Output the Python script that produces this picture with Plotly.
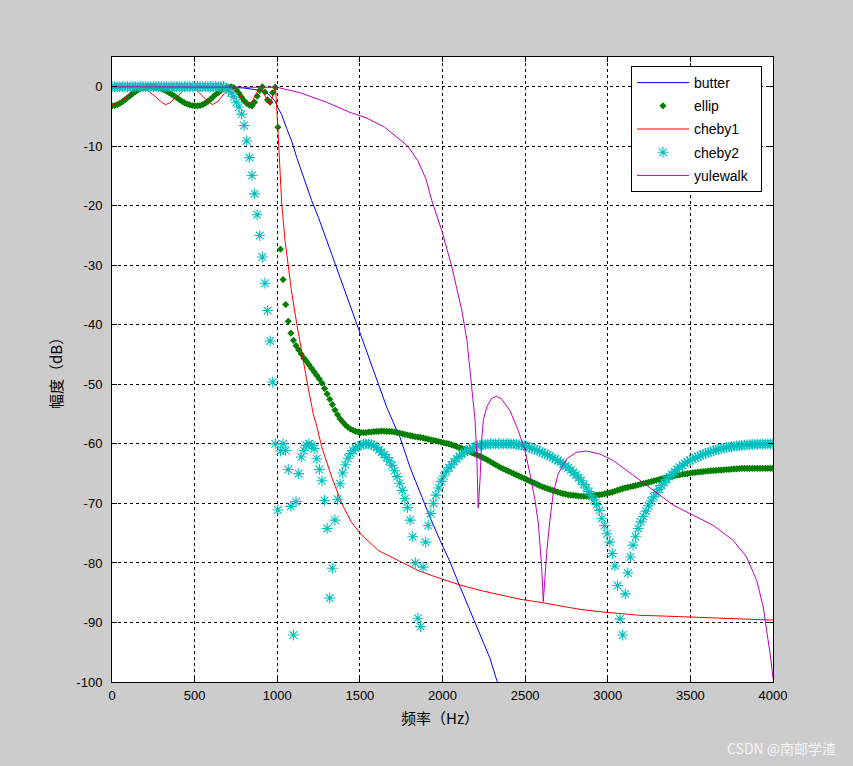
import plotly.graph_objects as go

# ---------------- data ----------------
STEP_HZ = 4000.0 / 255.0  # sample spacing of the marker series (256 samples, 0..4000 Hz)

ellip_db = [
    -3.2, -3.15, -3.0, -2.8, -2.5, -2.2, -1.85, -1.5, -1.15, -0.85, -0.55, -0.35, -0.2, -0.1, -0.03, 0.0,
    -0.02, -0.08, -0.18, -0.32, -0.5, -0.72, -0.98, -1.25, -1.55, -1.85, -2.15, -2.45, -2.7, -2.9, -3.05, -3.15,
    -3.2, -3.2, -3.15, -3.0, -2.75, -2.45, -2.1, -1.7, -1.3, -0.95, -0.62, -0.35, -0.15, -0.04, 0.0, -0.15,
    -0.55, -1.1, -1.75, -2.35, -2.8, -3.1, -3.2, -2.6, -1.6, -0.6, 0.0, -0.9, -2.2, -2.6, -1.0, -0.1,
    -6.8, -27.3, -32.4, -36.6, -39.4, -41.4, -42.6, -43.5, -44.2, -44.9, -45.6, -46.1, -46.7, -47.3, -47.9, -48.5,
    -49.1, -49.8, -50.7, -51.6, -52.5, -53.4, -54.3, -55.1, -55.8, -56.3, -56.8, -57.2, -57.5, -57.7, -57.9, -58.0,
    -58.1, -58.1, -58.1, -58.0, -58.0, -57.95, -57.9, -57.9, -57.85, -57.85, -57.9, -57.9, -57.95, -58.0, -58.1, -58.2,
    -58.3, -58.4, -58.5, -58.6, -58.7, -58.8, -58.85, -58.9, -59.0, -59.1, -59.2, -59.3, -59.4, -59.5, -59.6, -59.7,
    -59.8, -59.9, -60.0, -60.15, -60.3, -60.45, -60.6, -60.75, -60.9, -61.1, -61.3, -61.5, -61.7, -61.9, -62.1, -62.3,
    -62.5, -62.75, -63.0, -63.25, -63.5, -63.75, -64.0, -64.2, -64.4, -64.6, -64.8, -65.0, -65.2, -65.4, -65.6, -65.8,
    -66.0, -66.2, -66.4, -66.6, -66.8, -67.0, -67.2, -67.35, -67.5, -67.65, -67.8, -67.95, -68.1, -68.25, -68.35, -68.45,
    -68.55, -68.6, -68.65, -68.7, -68.75, -68.8, -68.8, -68.8, -68.75, -68.7, -68.65, -68.6, -68.55, -68.5, -68.4, -68.3,
    -68.2, -68.1, -67.95, -67.8, -67.65, -67.5, -67.4, -67.3, -67.2, -67.1, -67.0, -66.9, -66.75, -66.65, -66.55, -66.45,
    -66.35, -66.2, -66.1, -66.0, -65.85, -65.75, -65.65, -65.55, -65.45, -65.35, -65.25, -65.2, -65.1, -65.05, -65.0, -64.9,
    -64.85, -64.8, -64.75, -64.7, -64.65, -64.6, -64.55, -64.5, -64.5, -64.45, -64.4, -64.4, -64.35, -64.3, -64.3, -64.25,
    -64.2, -64.2, -64.15, -64.1, -64.1, -64.1, -64.1, -64.1, -64.1, -64.1, -64.1, -64.1, -64.1, -64.1, -64.1, -64.1,
]

cheby2_db = [
    0.0, 0.0, 0.0, 0.0, 0.0, 0.0, 0.0, 0.0, 0.0, 0.0, 0.0, 0.0, 0.0, 0.0, 0.0, 0.0,
    0.0, 0.0, 0.0, 0.0, 0.0, 0.0, 0.0, 0.0, 0.0, 0.0, 0.0, 0.0, 0.0, 0.0, 0.0, 0.0,
    0.0, 0.0, 0.0, 0.0, 0.0, 0.0, 0.0, 0.0, 0.0, 0.0, 0.0, 0.0, -0.2, -0.5, -1.0, -1.7,
    -2.6, -3.4, -4.6, -6.5, -9.1, -11.9, -14.9, -18.0, -21.5, -25.0, -28.6, -33.0, -37.6, -42.7, -49.6, -60.0,
    -71.1, -61.2, -60.0, -61.1, -64.3, -70.5, -92.1, -69.7, -65.0, -62.2, -61.1, -60.2, -60.0, -60.2, -60.8, -62.5,
    -64.3, -66.2, -69.5, -74.2, -85.9, -80.9, -72.8, -69.3, -66.7, -64.9, -63.5, -62.4, -61.6, -61.1, -60.7, -60.4,
    -60.2, -60.05, -60.0, -60.0, -60.1, -60.3, -60.6, -61.0, -61.4, -61.8, -62.3, -62.9, -63.6, -64.5, -65.5, -66.6,
    -67.8, -69.2, -70.7, -72.8, -75.6, -80.0, -89.3, -90.7, -80.7, -76.5, -73.7, -71.7, -70.0, -68.6, -67.4, -66.3,
    -65.4, -64.6, -64.0, -63.5, -63.0, -62.5, -62.1, -61.7, -61.4, -61.1, -60.9, -60.7, -60.5, -60.35, -60.25, -60.15,
    -60.1, -60.05, -60.0, -60.0, -60.0, -60.0, -60.0, -60.0, -60.0, -60.0, -60.0, -60.0, -60.1, -60.15, -60.2, -60.3,
    -60.45, -60.6, -60.75, -60.9, -61.05, -61.25, -61.45, -61.65, -61.85, -62.05, -62.3, -62.55, -62.8, -63.1, -63.4, -63.7,
    -64.0, -64.4, -64.8, -65.2, -65.7, -66.2, -66.8, -67.4, -68.0, -68.7, -69.4, -70.2, -71.2, -72.5, -73.7, -75.1,
    -76.5, -78.4, -80.5, -83.8, -89.4, -92.1, -85.2, -81.7, -79.0, -77.0, -75.6, -74.2, -73.1, -72.2, -71.3, -70.4,
    -69.6, -68.9, -68.2, -67.6, -67.0, -66.5, -66.0, -65.5, -65.1, -64.7, -64.3, -63.9, -63.6, -63.3, -63.0, -62.8,
    -62.55, -62.35, -62.15, -61.95, -61.75, -61.6, -61.45, -61.3, -61.15, -61.0, -60.9, -60.8, -60.7, -60.6, -60.5, -60.45,
    -60.4, -60.35, -60.3, -60.25, -60.2, -60.15, -60.12, -60.1, -60.08, -60.06, -60.05, -60.04, -60.03, -60.02, -60.01, -60.0,
]

ellip_f = [k * STEP_HZ for k in range(len(ellip_db))]
cheby2_f = [k * STEP_HZ for k in range(len(cheby2_db))]

butter_f = [0, 300, 600, 795, 896, 946, 986, 1000, 1027, 1057, 1087, 1118, 1148, 1168, 1208, 1250,
            1299, 1360, 1400, 1450, 1501, 1561, 1611, 1662, 1723, 1743, 1803, 1864, 1924, 1985, 2045,
            2106, 2166, 2227, 2287, 2328, 2360]
butter_db = [0, 0, 0, -0.2, -0.6, -1.2, -2.4, -3.3, -4.7, -7.0, -9.1, -11.9, -14.3, -16.1, -19.1, -22.0,
             -25.8, -30.3, -33.5, -37.3, -41.2, -46.0, -49.9, -53.8, -57.7, -58.9, -63.9, -68.3, -72.3, -76.2, -79.8,
             -84.0, -87.9, -91.8, -96.0, -99.7, -102.0]

cheby1_f = [0, 40, 80, 120, 164, 210, 260, 300, 324, 350, 400, 440, 473, 510, 550, 585, 608, 640, 680, 726,
            760, 795, 823, 850, 875, 900, 925, 955, 972, 989, 997, 1006, 1017, 1027, 1047, 1067, 1087, 1118,
            1148, 1164, 1178, 1218, 1239, 1269, 1330, 1390, 1450, 1511, 1611, 1733, 1854, 1985, 2106, 2227,
            2348, 2469, 2590, 2711, 2832, 2953, 3074, 3195, 3316, 3498, 3740, 4000]
cheby1_db = [-3.0, -2.7, -1.9, -0.8, 0.0, -0.5, -1.6, -2.6, -3.0, -2.7, -1.5, -0.4, 0.0, -0.5, -1.6, -2.6, -3.0,
             -2.5, -1.1, 0.0, -0.9, -2.4, -3.0, -2.4, -1.0, 0.0, -1.5, -3.0, -1.7, 0.0, -3.5, -9.1, -14.6, -19.6,
             -25.8, -30.5, -34.5, -39.8, -44.6, -47.0, -49.2, -55.0, -57.0, -60.5, -65.6, -70.0, -73.2, -75.3,
             -77.9, -79.6, -81.3, -82.6, -83.7, -84.6, -85.4, -86.1, -86.6, -87.2, -87.8, -88.2, -88.5, -88.8,
             -88.9, -89.1, -89.4, -89.6]

yule_f = [0, 500, 900, 1000, 1138, 1299, 1440, 1537, 1650, 1791, 1850, 1900, 1935, 1996, 2057, 2117, 2148,
          2168, 2188, 2197, 2207, 2216, 2227, 2237, 2247, 2268, 2296, 2326, 2356, 2378, 2408, 2458, 2499,
          2529, 2560, 2580, 2600, 2610, 2630, 2650, 2670, 2700, 2751, 2812, 2872, 2953, 3034, 3155, 3276,
          3397, 3518, 3639, 3759, 3840, 3901, 3941, 3961, 3984, 4000]
yule_db = [0, 0, 0, -0.1, -1.0, -2.6, -4.3, -5.2, -6.8, -10.0, -12.4, -15.5, -19.1, -24.2, -30.3, -37.6, -42.6,
           -48.2, -52.7, -56.0, -61.6, -70.8, -66.1, -59.4, -56.0, -53.8, -52.4, -52.0, -52.4, -53.2, -54.4,
           -57.7, -61.1, -65.0, -69.5, -73.4, -80.6, -86.5, -78.4, -72.8, -68.3, -65.0, -62.5, -61.4, -61.2,
           -61.7, -62.8, -65.3, -67.8, -70.3, -72.0, -73.7, -76.2, -79.0, -82.9, -87.4, -91.3, -95.5, -99.3]

x_ticks = [0, 500, 1000, 1500, 2000, 2500, 3000, 3500, 4000]
x_ticklabels = ["0", "500", "1000", "1500", "2000", "2500", "3000", "3500", "4000"]
y_ticks = [-100, -90, -80, -70, -60, -50, -40, -30, -20, -10, 0]
y_ticklabels = ["-100", "-90", "-80", "-70", "-60", "-50", "-40", "-30", "-20", "-10", "0"]

# ---------------- figure ----------------
W, H = 853, 766
L, R, T, B = 112, 80, 57, 84
PW, PH = W - L - R, H - T - B

fig = go.Figure()
fig.add_trace(go.Scatter(x=butter_f, y=butter_db, mode="lines", name="butter", legendgroup="g1",
                         line=dict(color="#0000ff", width=1)))
fig.add_trace(go.Scatter(x=ellip_f, y=ellip_db, mode="markers", name="ellip", legendgroup="g2",
                         marker=dict(symbol="diamond", size=5.5, color="#007f00",
                                     line=dict(width=0))))
fig.add_trace(go.Scatter(x=cheby1_f, y=cheby1_db, mode="lines", name="cheby1", legendgroup="g3",
                         line=dict(color="#ff0000", width=1)))
fig.add_trace(go.Scatter(x=cheby2_f, y=cheby2_db, mode="markers", name="cheby2", legendgroup="g4",
                         marker=dict(symbol="asterisk-open", size=9, color="#00bfbf",
                                     line=dict(color="#00bfbf", width=1.1))))
fig.add_trace(go.Scatter(x=yule_f, y=yule_db, mode="lines", name="yulewalk\u00a0\u00a0", legendgroup="g5",
                         line=dict(color="#bf00bf", width=1)))

tick_font = dict(family="Liberation Sans, Arial, sans-serif", size=13, color="#000000")
axis_common = dict(
    showline=True, linecolor="#000000", linewidth=1, mirror="ticks",
    ticks="inside", ticklen=5, tickcolor="#000000", tickwidth=1,
    showgrid=True, gridcolor="#000000", gridwidth=1, griddash="3px,3px",
    zeroline=False, tickfont=tick_font, fixedrange=True,
)

fig.update_xaxes(range=[0, 4000], tickmode="array", tickvals=x_ticks, ticktext=x_ticklabels,
                 ticklabelstandoff=1, **axis_common)
fig.update_yaxes(range=[-100, 5], tickmode="array", tickvals=y_ticks, ticktext=y_ticklabels,
                 ticklabelstandoff=6, **axis_common)

cjk = "Noto Sans CJK SC, Noto Sans, sans-serif"
fig.update_layout(
    width=W, height=H,
    margin=dict(l=L, r=R, t=T, b=B, pad=0),
    paper_bgcolor="#cccccc",
    plot_bgcolor="#ffffff",
    showlegend=True,
    legend=dict(
        x=(631 - L) / PW, y=1 - (66 - T) / PH, xanchor="left", yanchor="top",
        bgcolor="#ffffff", bordercolor="#000000", borderwidth=1,
        font=dict(family="Liberation Sans, Arial, sans-serif", size=14, color="#000000"),
        traceorder="grouped", tracegroupgap=2, itemwidth=52,
    ),
    annotations=[
        dict(text="频率（Hz）", x=(440 - L) / PW, y=-(717 - (T + PH)) / PH, xref="paper", yref="paper",
             xanchor="center", yanchor="middle", showarrow=False,
             font=dict(family=cjk, size=15, color="#000000")),
        dict(text="幅度（dB）", x=(55 - L) / PW, y=(T + PH - 370) / PH, xref="paper", yref="paper",
             xanchor="center", yanchor="middle", showarrow=False, textangle=-90,
             font=dict(family=cjk, size=15, color="#000000")),
        dict(text="CSDN @南邮学渣", x=(838 - L) / PW, y=-(748 - (T + PH)) / PH, xref="paper", yref="paper",
             xanchor="right", yanchor="middle", showarrow=False,
             font=dict(family=cjk, size=14, color="#f4f4f4")),
    ],
)

fig.write_html("out.html", config={"displayModeBar": False})
